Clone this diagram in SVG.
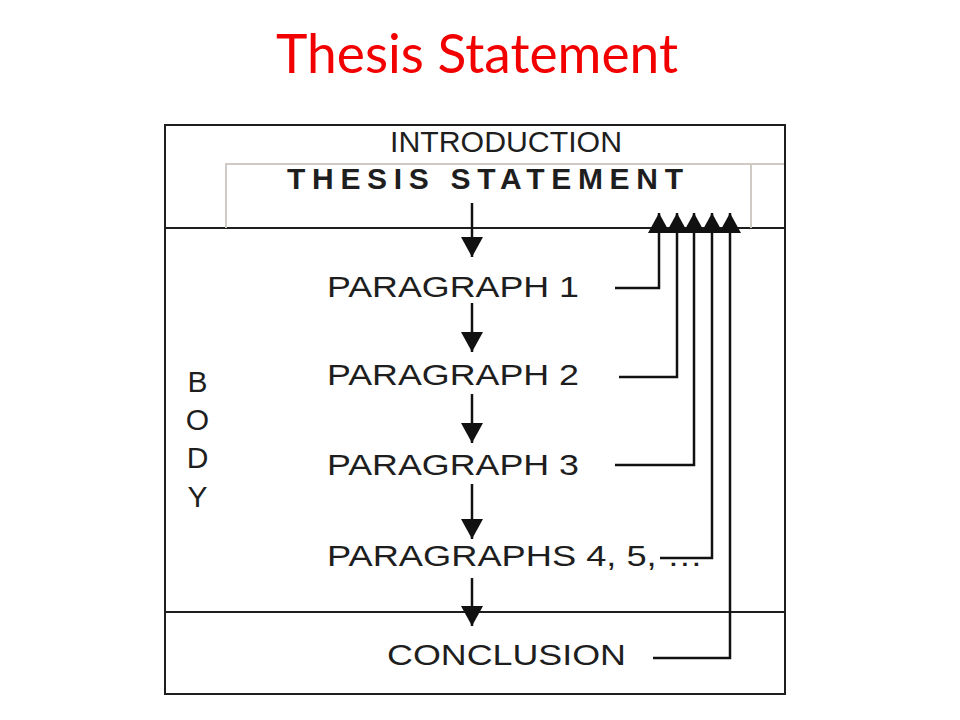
<svg xmlns="http://www.w3.org/2000/svg" width="960" height="720" viewBox="0 0 960 720">
<defs>
<style>
.lbl{font-family:"Liberation Sans",Arial,sans-serif;fill:#1e1e1e;font-size:30px}
.frame{fill:none;stroke:#1e1e1e;stroke-width:2}
.gray{fill:none;stroke:#cfcac4;stroke-width:2}
.con{fill:none;stroke:#111;stroke-width:2.5}
</style>
<marker id="ah" markerUnits="userSpaceOnUse" markerWidth="20" markerHeight="22" viewBox="0 0 20 22" refX="20" refY="11" orient="auto">
<path d="M0,0 L20,11 L0,22 Z" fill="#111"/>
</marker>
<marker id="fh" markerUnits="userSpaceOnUse" markerWidth="20" markerHeight="22" viewBox="0 0 20 22" refX="20" refY="11" orient="auto">
<path d="M0,0 L20,11 L0,22 Z" fill="#111"/>
</marker>
</defs>
<rect width="960" height="720" fill="#fff"/>
<text id="title" x="477" y="73" text-anchor="middle" font-family="Lato,'Open Sans',sans-serif" font-size="55" fill="#f20000" textLength="402" lengthAdjust="spacingAndGlyphs">Thesis Statement</text>

<g id="frame">
<rect class="frame" x="165" y="125" width="620" height="569"/>
<line class="frame" x1="165" y1="228" x2="785" y2="228"/>
<line class="frame" x1="165" y1="612" x2="785" y2="612"/>
</g>

<g id="introduction">
<text class="lbl" x="390" y="152" font-size="28" textLength="232" lengthAdjust="spacingAndGlyphs">INTRODUCTION</text>
</g>

<g id="thesis">
<path class="gray" d="M226,228 V164 H784 M751,164 V228"/>
<text class="lbl" x="287" y="189" font-size="26.5" font-weight="bold" textLength="396" lengthAdjust="spacing">THESIS STATEMENT</text>
</g>

<g id="body">
<text class="lbl" x="197.5" y="392" font-size="29" text-anchor="middle">B</text>
<text class="lbl" x="197.5" y="430" font-size="29" text-anchor="middle">O</text>
<text class="lbl" x="197.5" y="468" font-size="29" text-anchor="middle">D</text>
<text class="lbl" x="197.5" y="507" font-size="29" text-anchor="middle">Y</text>
</g>

<g id="p1"><text class="lbl" x="327" y="297" textLength="252" lengthAdjust="spacingAndGlyphs">PARAGRAPH 1</text></g>
<g id="p2"><text class="lbl" x="327" y="385" textLength="252" lengthAdjust="spacingAndGlyphs">PARAGRAPH 2</text></g>
<g id="p3"><text class="lbl" x="327" y="475" textLength="252" lengthAdjust="spacingAndGlyphs">PARAGRAPH 3</text></g>
<g id="p4"><text class="lbl" x="327" y="566" textLength="376" lengthAdjust="spacingAndGlyphs">PARAGRAPHS 4, 5, …</text></g>
<g id="conclusion"><text class="lbl" x="387" y="665" textLength="239" lengthAdjust="spacingAndGlyphs">CONCLUSION</text></g>

<g id="connectors">
<path class="con" d="M472,203 V257" marker-end="url(#ah)"/>
<path class="con" d="M472,303 V352" marker-end="url(#ah)"/>
<path class="con" d="M472,394 V443" marker-end="url(#ah)"/>
<path class="con" d="M472,484 V539" marker-end="url(#ah)"/>
<path class="con" d="M472,578 V626" marker-end="url(#ah)"/>
<path class="con" d="M615,288 H659 V213" marker-end="url(#fh)"/>
<path class="con" d="M619,377 H677 V213" marker-end="url(#fh)"/>
<path class="con" d="M615,465 H694 V213" marker-end="url(#fh)"/>
<path class="con" d="M660,558 H712 V213" marker-end="url(#fh)"/>
<path class="con" d="M653,658 H730 V213" marker-end="url(#fh)"/>
</g>
</svg>
